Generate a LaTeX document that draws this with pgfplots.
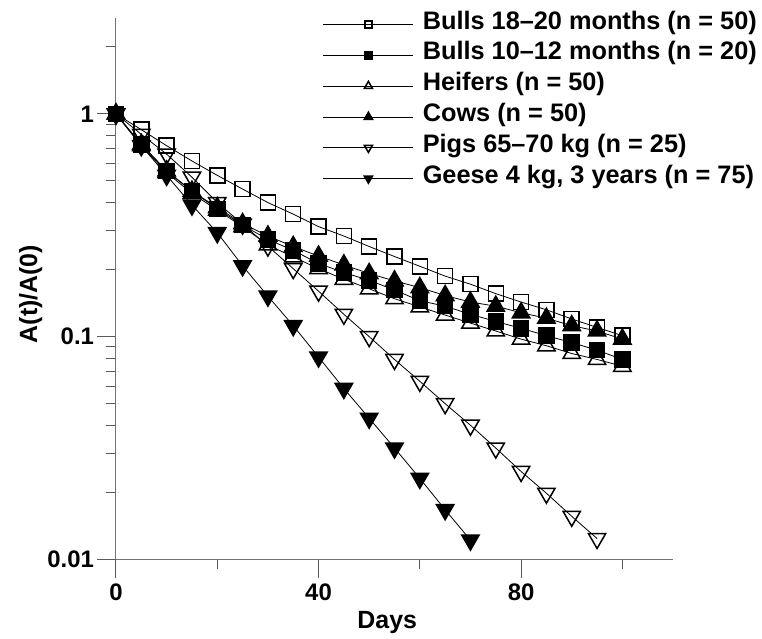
\documentclass[border=0pt]{standalone}
\usepackage{fontspec}
\setmainfont{Liberation Sans}
\usepackage{pgfplots}
\pgfplotsset{compat=1.18}

\begin{document}
\begin{tikzpicture}
\begin{axis}[
  name=ax,
  scale only axis,
  width=557bp, height=541.4bp,
  xmin=0, xmax=110,
  ymode=log, ymin=0.01, ymax=2.7,
  axis lines=left,
  axis line style={-, draw=black!55, line width=1bp},
  clip=false,
  xtick={0,40,80}, xticklabels={0,40,80},
  minor xtick={20,60,100},
  ytick={0.01,0.1,1}, yticklabels={0.01,0.1,1},
  minor ytick={0.02,0.03,0.04,0.05,0.06,0.07,0.08,0.09,0.2,0.3,0.4,0.5,0.6,0.7,0.8,0.9,2},
  tick align=outside,
  major tick length=18.5bp, minor tick length=9.5bp,
  tick style={black!65, line width=1bp},
  every tick label/.append style={font=\fontsize{24}{24}\selectfont\bfseries},
  xticklabel style={yshift=-2.5bp},
  xlabel={Days}, ylabel={A(t)/A(0)},
  label style={font=\fontsize{25}{25}\selectfont\bfseries},
  xlabel style={at={(axis description cs:0.487,-0.116)}, anchor=center},
  ylabel style={at={(axis description cs:-0.153,0.49)}, anchor=center},
  legend style={at={(1,1)}, anchor=north east, xshift=84bp, yshift=9bp, draw=none, fill=none,
    font=\fontsize{25.4}{25.4}\selectfont\bfseries, inner sep=0pt, row sep=0pt, column sep=9bp,
    nodes={inner sep=0pt, text height=20bp, text depth=10.8bp}},
  legend cell align=left,
  legend image code/.code={\draw[mark repeat=2,mark phase=2,#1,every mark/.append style={scale=0.47}] plot coordinates {(0bp,0bp) (45bp,0bp) (90bp,0bp)};},
]
\addplot[black, line width=0.8bp, mark=square, mark size=7.5bp, mark options={line width=1.5bp, solid}] coordinates {
(0,1) (5,0.85) (10,0.72) (15,0.615) (20,0.53) (25,0.46) (30,0.40) (35,0.355) (40,0.312) (45,0.283) (50,0.254) (55,0.229) (60,0.207) (65,0.187) (70,0.172) (75,0.156) (80,0.143) (85,0.132) (90,0.12) (95,0.11) (100,0.101)};
\addplot[black, line width=0.8bp, mark=square*, mark size=7.5bp, mark options={line width=1.5bp, solid, fill=black}] coordinates {
(0,1) (5,0.73) (10,0.555) (15,0.45) (20,0.375) (25,0.317) (30,0.273) (35,0.244) (40,0.213) (45,0.194) (50,0.179) (55,0.162) (60,0.145) (65,0.137) (70,0.126) (75,0.117) (80,0.109) (85,0.101) (90,0.094) (95,0.087) (100,0.079)};
\addplot[black, line width=0.8bp, mark=triangle, mark size=10bp, mark options={line width=1.5bp, solid}] coordinates {
(0,1) (5,0.72) (10,0.545) (15,0.44) (20,0.37) (25,0.312) (30,0.258) (35,0.228) (40,0.202) (45,0.181) (50,0.164) (55,0.148) (60,0.136) (65,0.125) (70,0.115) (75,0.106) (80,0.0975) (85,0.091) (90,0.084) (95,0.079) (100,0.0736)};
\addplot[black, line width=0.8bp, mark=triangle*, mark size=10bp, mark options={line width=1.5bp, solid, fill=black}] coordinates {
(0,1) (5,0.73) (10,0.555) (15,0.45) (20,0.38) (25,0.322) (30,0.283) (35,0.254) (40,0.23) (45,0.21) (50,0.192) (55,0.178) (60,0.166) (65,0.153) (70,0.143) (75,0.137) (80,0.128) (85,0.121) (90,0.112) (95,0.106) (100,0.0975)};
\addplot[black, line width=0.8bp, mark=triangle, mark size=10bp, mark options={line width=1.5bp, solid, rotate=180}] coordinates {
(0,1) (5,0.81) (10,0.66) (15,0.52) (20,0.40) (25,0.32) (30,0.255) (35,0.202) (40,0.16) (45,0.126) (50,0.1) (55,0.079) (60,0.063) (65,0.05) (70,0.04) (75,0.0316) (80,0.0248) (85,0.0198) (90,0.0156) (95,0.0124)};
\addplot[black, line width=0.8bp, mark=triangle*, mark size=10bp, mark options={line width=1.5bp, solid, rotate=180, fill=black}] coordinates {
(0,1) (5,0.72) (10,0.53) (15,0.39) (20,0.293) (25,0.208) (30,0.152) (35,0.112) (40,0.081) (45,0.0585) (50,0.043) (55,0.0316) (60,0.0231) (65,0.0167) (70,0.0122)};
\legend{Bulls 18–20 months (n = 50), Bulls 10–12 months (n = 20), Heifers (n = 50), Cows (n = 50), Pigs 65–70 kg (n = 25), {Geese 4 kg, 3 years (n = 75)}}
\end{axis}
\path ([xshift=-116bp,yshift=-79.7bp]ax.south west) rectangle ([xshift=646bp,yshift=559.3bp]ax.south west);
\end{tikzpicture}
\end{document}
